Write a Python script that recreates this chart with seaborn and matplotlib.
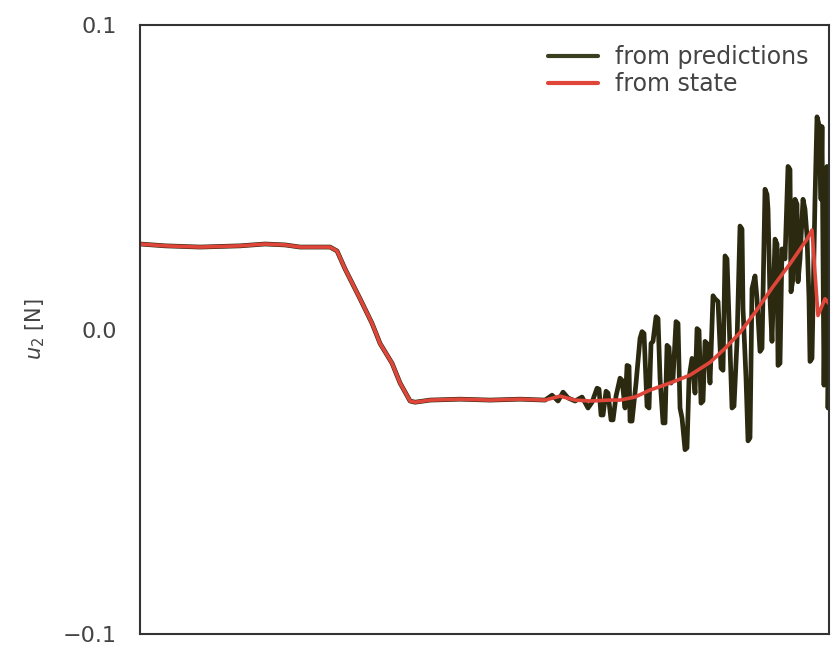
import numpy as np
import pandas as pd
import matplotlib
matplotlib.use("Agg")
import matplotlib.pyplot as plt
import seaborn as sns

# time step (arbitrary units) and control force u2 [N]
state_t = [0, 25, 60, 100, 125, 145, 160, 190, 197, 205, 220, 232, 240, 252,
           260, 270, 275, 290, 320, 350, 380, 405, 420, 435, 450, 470, 480,
           495, 510, 530, 550, 570, 585, 600, 615, 633, 650, 667, 672, 678,
           685, 689]
state_u = [0.0281, 0.0275, 0.0271, 0.0275, 0.0281, 0.0278, 0.0271, 0.0271,
           0.0258, 0.0199, 0.0101, 0.0020, -0.0046, -0.0111, -0.0176, -0.0235,
           -0.0239, -0.0232, -0.0229, -0.0232, -0.0229, -0.0232, -0.0219,
           -0.0232, -0.0235, -0.0232, -0.0232, -0.0222, -0.0199, -0.0176,
           -0.0150, -0.0108, -0.0062, -0.0010, 0.0056, 0.0141, 0.0216, 0.0297,
           0.0327, 0.0046, 0.0101, 0.0085]

# predictions follow the state until step ~405, then get noisy
noisy_t = [412, 418, 423, 428, 435, 442, 448, 452, 457, 459,
           461, 463, 466, 468, 471, 473, 476, 480, 482, 485,
           487, 489, 490, 492, 496, 500, 502, 504, 507, 509,
           511, 513, 516, 518, 520, 523, 525, 527, 529, 531,
           533, 536, 538, 540, 542, 545, 547, 549, 552, 555,
           557, 559, 561, 563, 565, 567, 570, 573, 575, 578,
           581, 583, 585, 587, 588, 592, 594, 597, 600, 602,
           603, 606, 608, 610, 612, 615, 617, 620, 622, 625,
           627, 628, 630, 632, 635, 637, 638, 640, 642, 645,
           648, 650, 651, 653, 655, 657, 658, 660, 663, 665,
           667, 669, 670, 672, 675, 677, 679, 681, 682, 684,
           685, 687, 688, 689]
noisy_u = [-0.0216, -0.0235, -0.0206, -0.0225, -0.0235, -0.0222, -0.0258, -0.0239, -0.0193, -0.0196,
           -0.0281, -0.0281, -0.0203, -0.0209, -0.0297, -0.0297, -0.0219, -0.0160, -0.0167, -0.0258,
           -0.0118, -0.0121, -0.0301, -0.0301, -0.0176, -0.0029, -0.0007, -0.0013, -0.0252, -0.0258,
           -0.0046, -0.0039, 0.0042, 0.0036, -0.0160, -0.0307, -0.0307, -0.0052, -0.0059, -0.0176,
           -0.0160, 0.0026, 0.0020, -0.0258, -0.0291, -0.0395, -0.0389, -0.0160, -0.0095, -0.0209,
           0.0003, -0.0003, -0.0242, -0.0235, -0.0039, -0.0046, -0.0176, 0.0111, 0.0101, 0.0092,
           -0.0127, -0.0134, 0.0242, 0.0232, 0.0134, -0.0258, -0.0252, -0.0039, 0.0340, 0.0330,
           0.0069, -0.0160, -0.0366, -0.0356, 0.0134, 0.0176, 0.0101, -0.0072, -0.0062, 0.0461,
           0.0444, 0.0395, 0.0101, -0.0039, 0.0297, 0.0281, -0.0118, -0.0111, 0.0265, 0.0232,
           0.0536, 0.0526, 0.0124, 0.0167, 0.0428, 0.0412, 0.0157, 0.0232, 0.0428, 0.0395,
           0.0307, 0.0101, -0.0105, -0.0095, 0.0428, 0.0699, 0.0673, 0.0428, 0.0667, -0.0183,
           0.0101, 0.0536, -0.0258, 0.0003]

n_shared = state_t.index(405) + 1
pred_t = state_t[:n_shared] + noisy_t
pred_u = state_u[:n_shared] + noisy_u

y_ticks = [-0.1, 0.0, 0.1]
y_ticklabels = ['\u22120.1', '0.0', '0.1']

sns.set_theme(style="white")
plt.rcParams['font.family'] = ['DejaVu Sans']

fig = plt.figure(figsize=(8.34, 6.48), dpi=100)
ax = fig.add_axes([0.168, 0.022, 0.826, 0.939])

df_pred = pd.DataFrame({'t': pred_t, 'u': pred_u})
df_state = pd.DataFrame({'t': state_t, 'u': state_u})

sns.lineplot(data=df_pred, x='t', y='u', color='#2b2a10', linewidth=3.4,
             sort=False, estimator=None, label='from predictions', ax=ax)
sns.lineplot(data=df_state, x='t', y='u', color='#e0453a', linewidth=2.6,
             sort=False, estimator=None, label='from state', ax=ax)

ax.set_xlim(0, 689)
ax.set_ylim(-0.1, 0.1)
ax.set_yticks(y_ticks)
ax.set_yticklabels(y_ticklabels)
ax.set_xticks([])
ax.set_xlabel('')
ax.set_ylabel('$u_2$ [N]', fontsize=15, color='#444444', labelpad=11)
ax.tick_params(axis='y', labelsize=16, colors='#444444', length=0, pad=17)

for sp in ax.spines.values():
    sp.set_color('#333333')
    sp.set_linewidth(1.5)

leg = ax.legend(loc='upper right', frameon=False, fontsize=17,
                handlelength=2.1, handletextpad=0.75, borderaxespad=0.45,
                labelspacing=0.12)
leg.get_lines()[0].set_color('#3a3d1e')
for line in leg.get_lines():
    line.set_linewidth(3)
for txt in leg.get_texts():
    txt.set_color('#444444')

fig.savefig('out.png', dpi=100)
